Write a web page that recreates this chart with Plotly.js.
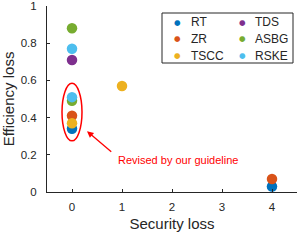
<!DOCTYPE html>
<html>
<head>
<meta charset="utf-8">
<script src="https://cdn.plot.ly/plotly-3.0.1.min.js"></script>
<style>html,body{margin:0;padding:0;background:#fff}#chart{width:297px;height:245px}</style>
</head>
<body>
<div id="chart"></div>
<script>
// Series data (security loss, efficiency loss)
const seriesNames = ["RT", "ZR", "TSCC", "TDS", "ASBG", "RSKE"];
const seriesColors = ["#0072BD", "#D95319", "#EDB120", "#7E2F8E", "#77AC30", "#4DBEEE"];
const rtX = [0, 4];     const rtY = [0.34, 0.03];
const zrX = [0, 4];     const zrY = [0.41, 0.07];
const tsccX = [0, 1];   const tsccY = [0.37, 0.57];
const tdsX = [0];       const tdsY = [0.71];
const asbgX = [0, 0];   const asbgY = [0.88, 0.49];
const rskeX = [0, 0];   const rskeY = [0.77, 0.51];
const xTicks = [0, 1, 2, 3, 4];
const yTicks = [0, 0.2, 0.4, 0.6, 0.8, 1];
const yTickText = ["0", "0.2", "0.4", "0.6", "0.8", "1"];
const annotationText = "Revised by our guideline";

const xs = [rtX, zrX, tsccX, tdsX, asbgX, rskeX];
const ys = [rtY, zrY, tsccY, tdsY, asbgY, rskeY];

const traces = seriesNames.map((n, i) => ({
  type: "scatter", mode: "markers", name: n, x: xs[i], y: ys[i],
  marker: {color: seriesColors[i], size: 10.5},
  showlegend: false, hoverinfo: "name+x+y"
}));

const font = {family: "Liberation Sans, Arial, sans-serif", color: "#262626"};
const W = 297, H = 245, ml = 47, mr = 0, mt = 6, mb = 53;
const pw = W - ml - mr, ph = H - mt - mb;
function px(x) { return (x - ml) / pw; }
function py(y) { return (H - mb - y) / ph; }

// two-column legend box (column-major like the reference)
const legColDot = [177, 242], legColText = [189, 253], legRowY = [22, 39, 55.5];
const legendAnn = [];
seriesNames.forEach((n, i) => {
  const c = Math.floor(i / 3), r = i % 3;
  legendAnn.push({xref: "paper", yref: "paper", x: px(legColDot[c]), y: py(legRowY[r]),
    xanchor: "center", yanchor: "middle", text: "●", showarrow: false,
    font: {family: "DejaVu Sans", size: 7.5, color: seriesColors[i]}});
  legendAnn.push({xref: "paper", yref: "paper", x: px(legColText[c]), y: py(legRowY[r]),
    xanchor: "left", yanchor: "middle", text: n, showarrow: false,
    font: Object.assign({size: 12}, font)});
});

const layout = {
  width: W, height: H,
  margin: {l: ml, r: mr, t: mt, b: mb, pad: 0},
  paper_bgcolor: "#fff", plot_bgcolor: "#fff",
  font: Object.assign({size: 11.5}, font),
  showlegend: false,
  xaxis: {
    range: [-0.5, 4.5], tickvals: xTicks, ticks: "inside", ticklen: 3, tickcolor: "#262626",
    showline: true, linecolor: "#262626", linewidth: 1, showgrid: false, zeroline: false,
    tickfont: Object.assign({size: 11.5}, font), ticklabelstandoff: 4, ticklabeloverflow: "allow",
    title: {text: "Security loss", font: Object.assign({size: 15}, font), standoff: 6}
  },
  yaxis: {
    range: [0, 1], tickvals: yTicks, ticktext: yTickText, ticks: "inside", ticklen: 3, tickcolor: "#262626",
    showline: true, linecolor: "#262626", linewidth: 1, showgrid: false, zeroline: false,
    tickfont: Object.assign({size: 11.5}, font), ticklabelstandoff: 7, ticklabeloverflow: "allow",
    title: {text: "Efficiency loss", font: Object.assign({size: 15}, font), standoff: 4}
  },
  shapes: [
    {type: "rect", xref: "paper", yref: "paper", x0: px(162), x1: px(293), y0: py(63), y1: py(13),
     line: {color: "#262626", width: 1}, fillcolor: "rgba(255,255,255,1)", layer: "below"},
    {type: "circle", xref: "x", yref: "y", x0: -0.2, x1: 0.2, y0: 0.275, y1: 0.585,
     line: {color: "#FF0000", width: 1.5}}
  ],
  annotations: [
    {x: 0.30, y: 0.327, ax: 0.815, ay: 0.209, xref: "x", yref: "y", axref: "x", ayref: "y",
     text: "", showarrow: true, arrowhead: 2, arrowsize: 1, arrowwidth: 1.3, arrowcolor: "#FF0000"},
    {x: 0.885, y: 0.17, xref: "x", yref: "y", xanchor: "left", yanchor: "middle",
     text: annotationText, showarrow: false, font: {family: font.family, size: 11, color: "#FF0000"}}
  ].concat(legendAnn)
};

Plotly.newPlot("chart", traces, layout, {staticPlot: true, displayModeBar: false});
</script>
</body>
</html>
